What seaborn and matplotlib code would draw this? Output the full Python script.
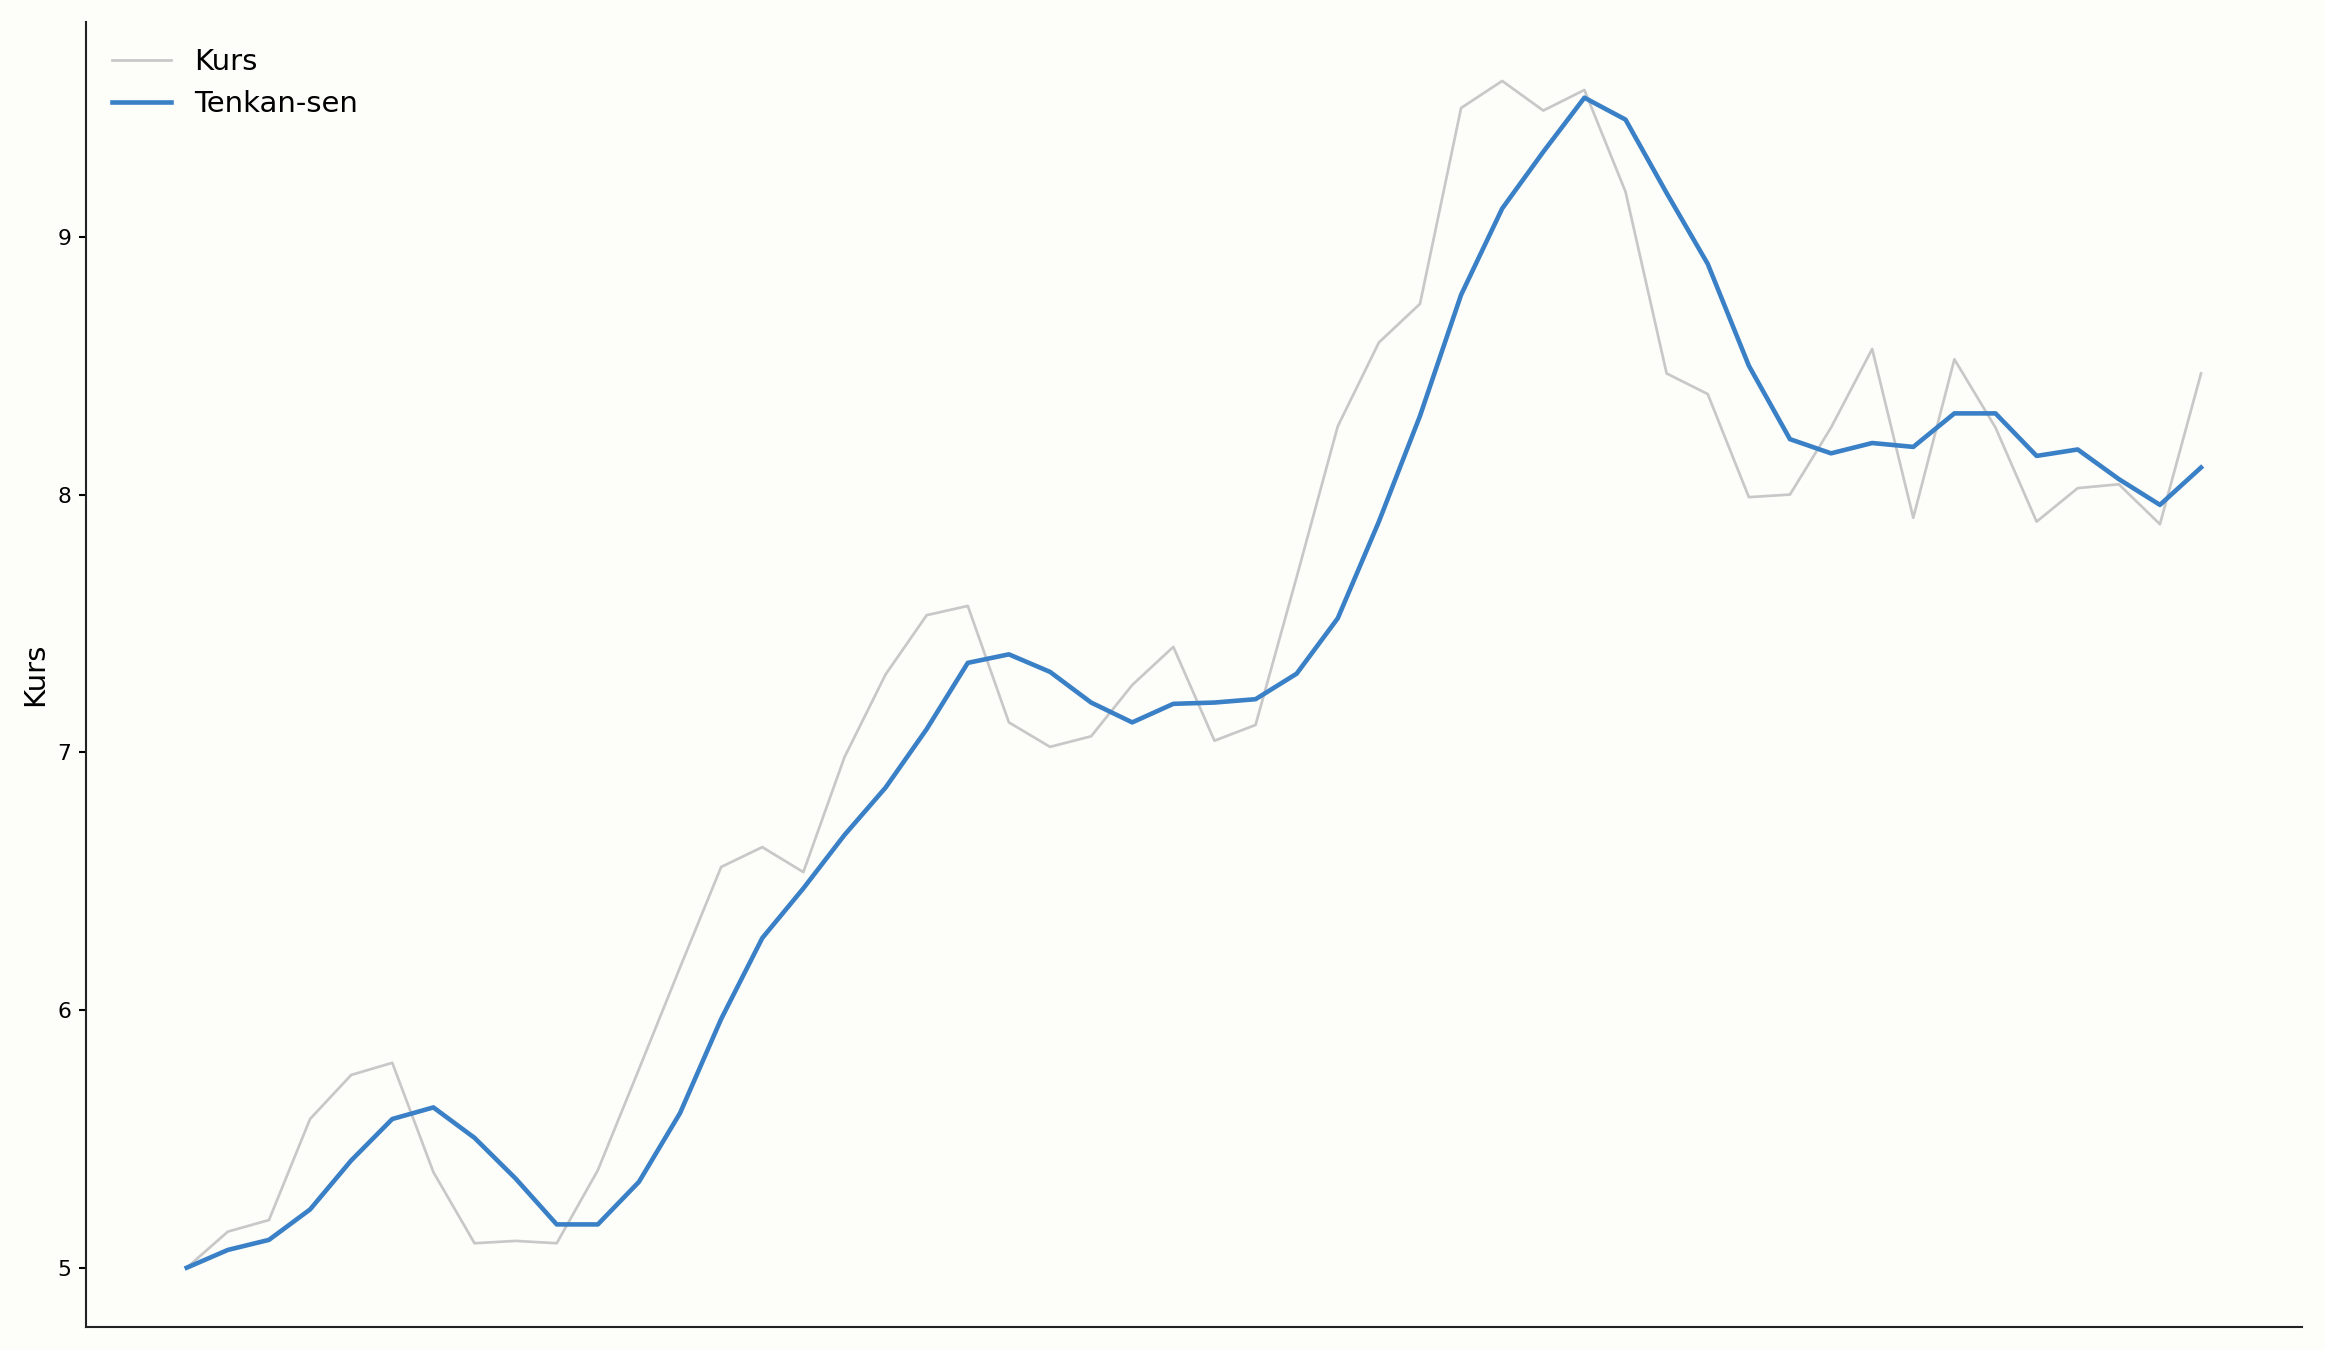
import numpy as np
import pandas as pd
import matplotlib
matplotlib.use("Agg")
import matplotlib.pyplot as plt
import seaborn as sns

# values (50 periods)
periode = list(range(50))

kurs = [5.00, 5.14, 5.185, 5.577, 5.748, 5.795, 5.371, 5.095, 5.104, 5.095,
        5.378, 5.77, 6.165, 6.555, 6.632, 6.535, 6.981, 7.302, 7.532, 7.568,
        7.116, 7.021, 7.062, 7.261, 7.409, 7.045, 7.106, 7.68, 8.265, 8.59,
        8.74, 9.50, 9.605, 9.49, 9.57, 9.175, 8.47, 8.39, 7.99, 8.00,
        8.26, 8.565, 7.91, 8.525, 8.26, 7.895, 8.025, 8.04, 7.885, 8.47]

tenkan = [5.00, 5.069, 5.108, 5.226, 5.416, 5.577, 5.622, 5.504, 5.346, 5.168,
          5.168, 5.333, 5.60, 5.965, 6.279, 6.472, 6.679, 6.863, 7.090, 7.347,
          7.380, 7.312, 7.193, 7.116, 7.188, 7.193, 7.206, 7.305, 7.52, 7.895,
          8.305, 8.775, 9.11, 9.33, 9.54, 9.455, 9.17, 8.895, 8.50, 8.215,
          8.16, 8.20, 8.185, 8.315, 8.315, 8.15, 8.175, 8.06, 7.96, 8.105]

df = pd.DataFrame({"Periode": periode, "Kurs": kurs, "Tenkan-sen": tenkan})

bg = "#fdfdf9"
fig, ax = plt.subplots(figsize=(15.5, 9), dpi=150)
fig.patch.set_facecolor(bg)
ax.set_facecolor(bg)

sns.lineplot(data=df, x="Periode", y="Kurs", ax=ax, color="#c8c8c8",
             linewidth=1.3, label="Kurs")
sns.lineplot(data=df, x="Periode", y="Tenkan-sen", ax=ax, color="#3a80c6",
             linewidth=2.2, label="Tenkan-sen")

ax.set_xlabel("")
ax.set_xticks([])
ax.set_ylabel("Kurs", fontsize=14)
ax.set_yticks([5, 6, 7, 8, 9])
ax.tick_params(axis="y", labelsize=10.5, length=3.5, width=1.0, colors="black")

sns.despine(ax=ax)
for side in ["left", "bottom"]:
    ax.spines[side].set_color("#222222")
    ax.spines[side].set_linewidth(1.0)

ax.legend(loc="upper left", frameon=False, fontsize=14)

fig.subplots_adjust(left=0.037, right=0.99, bottom=0.017, top=0.984)
fig.savefig("out.png", dpi=150, facecolor=bg)
